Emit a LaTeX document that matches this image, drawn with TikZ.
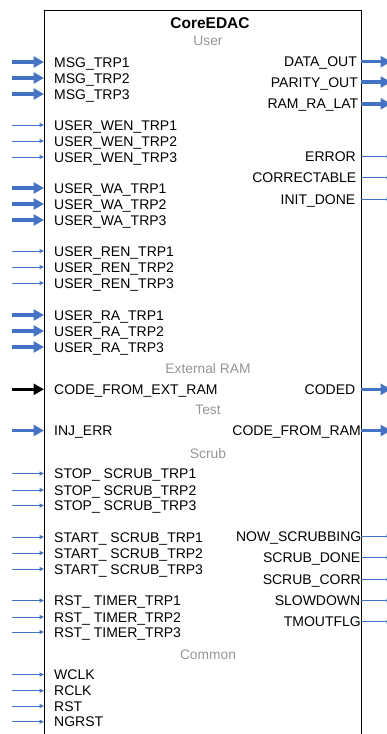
\documentclass[tikz,border=0pt]{standalone}
\usepackage{fontspec}
\setmainfont{Liberation Sans}
\usetikzlibrary{arrows.meta}
\definecolor{pinblue}{RGB}{68,114,196}
\definecolor{secgray}{RGB}{150,150,150}
\begin{document}
\begin{tikzpicture}[x=1pt,y=-1pt,
  pintext/.style={font=\fontsize{14}{16}\selectfont, inner sep=0pt, text=black},
  sectext/.style={font=\fontsize{13.8}{16}\selectfont, inner sep=0pt, text=secgray, anchor=base},
  titletext/.style={font=\fontsize{15.5}{18}\selectfont\bfseries, inner sep=0pt, anchor=base},
  busin/.style={draw=pinblue, line width=3.5pt, -{Triangle[length=10.5pt,width=11pt]}},
  blackbus/.style={draw=black, line width=3.5pt, -{Triangle[length=10.5pt,width=11pt]}},
  thinin/.style={draw=pinblue, line width=0.9pt, -{Triangle[length=4.5pt,width=4pt]}},
  busout/.style={draw=pinblue, line width=3.5pt, -{Triangle[length=10.5pt,width=11pt]}},
  thinout/.style={draw=pinblue, line width=0.9pt, -{Triangle[length=4.5pt,width=4pt]}},
  blockbox/.style={draw=black, line width=1.3pt, inner sep=0pt, anchor=north west,
                   minimum width=317pt, minimum height=760pt}]
\useasboundingbox (0,0) rectangle (387,734);
\clip (0,0) rectangle (387,734);
\node[blockbox] (box) at (44,10) {};
\node[titletext] (title) at (210,28.8) {CoreEDAC};
% section labels
\foreach \y/\t/\n in {40.7/User/user, 368.3/External RAM/ext, 410/Test/test, 453.3/Scrub/scrub, 654.3/Common/common}
  \node[sectext] (sec\n) at (208,\y+4.9) {\t};
% left inputs
\foreach \y/\t/\n/\s in {
  62/MSG\_TRP1/msga/busin, 78/MSG\_TRP2/msgb/busin, 94/MSG\_TRP3/msgc/busin,
  125/USER\_WEN\_TRP1/wena/thinin, 141/USER\_WEN\_TRP2/wenb/thinin, 157/USER\_WEN\_TRP3/wenc/thinin,
  188/USER\_WA\_TRP1/waa/busin, 204/USER\_WA\_TRP2/wab/busin, 220/USER\_WA\_TRP3/wac/busin,
  251/USER\_REN\_TRP1/rena/thinin, 267/USER\_REN\_TRP2/renb/thinin, 283/USER\_REN\_TRP3/renc/thinin,
  315/USER\_RA\_TRP1/raa/busin, 331/USER\_RA\_TRP2/rab/busin, 347/USER\_RA\_TRP3/rac/busin,
  389.3/CODE\_FROM\_EXT\_RAM/cfer/blackbus,
  430.5/INJ\_ERR/injerr/busin,
  473.5/STOP\_ SCRUB\_TRP1/stopa/thinin, 490/STOP\_ SCRUB\_TRP2/stopb/thinin, 505.5/STOP\_ SCRUB\_TRP3/stopc/thinin,
  537/START\_ SCRUB\_TRP1/starta/thinin, 553/START\_ SCRUB\_TRP2/startb/thinin, 569/START\_ SCRUB\_TRP3/startc/thinin,
  600.5/RST\_ TIMER\_TRP1/rsta/thinin, 617/RST\_ TIMER\_TRP2/rstb/thinin, 632/RST\_ TIMER\_TRP3/rstc/thinin,
  674.5/WCLK/wclk/thinin, 690.7/RCLK/rclk/thinin, 706/RST/rst/thinin, 721.7/NGRST/ngrst/thinin}
{
  \coordinate (src\n) at (11.5,\y);
  \coordinate (pin\n) at (44,\y);
  \node[pintext, anchor=base west] (lab\n) at (54,\y+5) {\t};
  \draw[\s] (src\n) -- (pin\n);
}
% right outputs
\foreach \y/\t/\n/\s/\x in {
  61.7/DATA\_OUT/dout/busout/357, 82/PARITY\_OUT/pout/busout/358, 103.8/RAM\_RA\_LAT/ralat/busout/358.5,
  156.7/ERROR/err/thinout/356, 177.7/CORRECTABLE/corr/thinout/356.5, 199/INIT\_DONE/initd/thinout/355.5,
  389.3/CODED/coded/busout/355.5,
  430.5/CODE\_FROM\_RAM/cfr/busout/361,
  536/NOW\_SCRUBBING/nows/thinout/361.5, 557.5/SCRUB\_DONE/sdone/thinout/360.5, 579.5/SCRUB\_CORR/scorr/thinout/361,
  600.5/SLOWDOWN/slow/thinout/360.5, 621.7/TMOUTFLG/tmout/thinout/361}
{
  \coordinate (opin\n) at (361,\y);
  \coordinate (dst\n) at (391,\y);
  \node[pintext, anchor=base east] (olab\n) at (\x,\y+5) {\t};
  \draw[\s] (opin\n) -- (dst\n);
}
\end{tikzpicture}
\end{document}
